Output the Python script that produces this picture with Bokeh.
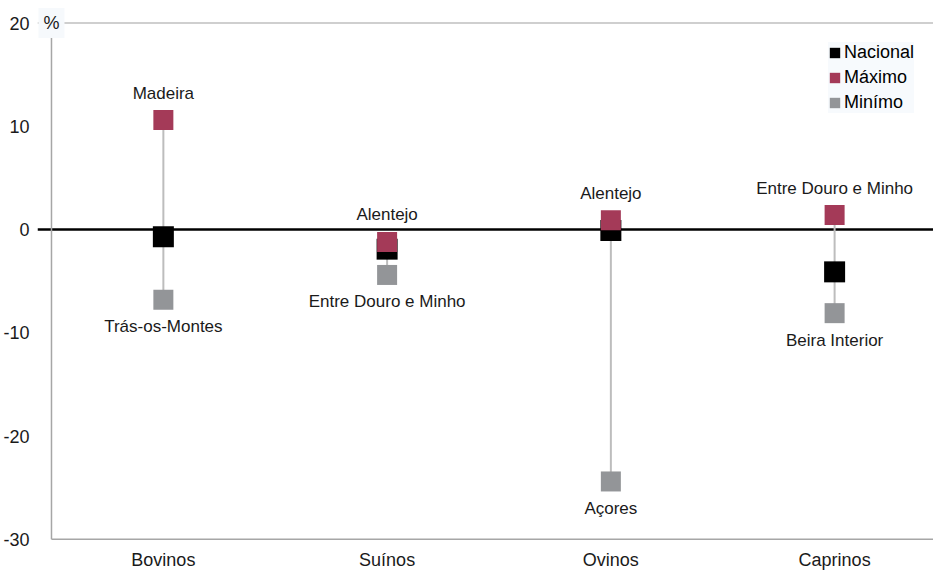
import numpy as np
from bokeh.plotting import figure
from bokeh.models import (ColumnDataSource, FixedTicker, Span, Label, Legend,
                          LegendItem, Range1d)
from bokeh.core.properties import value
from bokeh.embed import file_html
from bokeh.resources import INLINE

# ---------------- data ----------------
categories = ["Bovinos", "Suínos", "Ovinos", "Caprinos"]
nacional = [-0.7, -1.9, -0.1, -4.1]
maximo = [10.6, -1.2, 0.9, 1.4]
minimo = [-6.8, -4.4, -24.4, -8.1]
max_regions = ["Madeira", "Alentejo", "Alentejo", "Entre Douro e Minho"]
min_regions = ["Trás-os-Montes", "Entre Douro e Minho", "Açores", "Beira Interior"]
y_ticks = [-30, -20, -10, 0, 10, 20]
legend_labels = ["Nacional", "Máximo", "Minímo"]
unit_label = "%"

# ---------------- styles / layout ----------------
FONT_NAME = "Liberation Sans"
FONT = value(FONT_NAME)
C_NAC = "#000000"
C_MAX = "#A43A58"
C_MIN = "#939598"
C_AXIS = "#A6A6A6"

W, H = 933, 573
LEFT = 36
PX_X = 224.0            # pixels per category
PX_Y = 516.0 / 50.0     # pixels per percentage point
TOP_PX, BOT_PX = 22.5, 538.8   # pixel rows of the 20 and -30 lines
frame_w = W - LEFT
x_start = -14.0 / PX_X
x_end = x_start + frame_w / PX_X
y_lo, y_hi = y_ticks[0], y_ticks[-1]
y_end = y_hi + TOP_PX / PX_Y
y_start = y_lo - (H - BOT_PX) / PX_Y

xs = [i + 0.5 for i in range(len(categories))]
src = ColumnDataSource(dict(x=xs, nac=nacional, mx=maximo, mn=minimo,
                            maxr=max_regions, minr=min_regions,
                            base=[y_lo] * len(categories), cat=categories))

p = figure(width=W, height=H, output_backend="svg", toolbar_location=None,
           x_range=Range1d(x_start, x_end), y_range=Range1d(y_start, y_end),
           min_border_left=LEFT, min_border_right=0, min_border_top=0,
           min_border_bottom=0)
p.outline_line_color = None
p.xgrid.visible = False
p.ygrid.visible = False
p.xaxis.visible = False
p.background_fill_color = "white"
p.border_fill_color = "white"

# y axis (labels only; line drawn as a segment)
p.yaxis.ticker = FixedTicker(ticks=y_ticks)
p.yaxis.major_label_overrides = {t: str(t) for t in y_ticks}
p.yaxis.major_tick_line_color = None
p.yaxis.minor_tick_line_color = None
p.yaxis.axis_line_color = None
p.yaxis.major_label_text_font = FONT_NAME
p.yaxis.major_label_text_font_size = "18px"
p.yaxis.major_label_text_color = "#1a1a1a"
p.yaxis.major_label_standoff = 2

# reference lines
p.add_layout(Span(location=0, dimension="width", line_color="black",
                  line_width=2.5, level="underlay"))
p.add_layout(Span(location=y_hi, dimension="width", line_color="#BFBFBF",
                  line_width=1.5, level="underlay"))

# axis lines
p.segment(x0=[0], y0=[y_lo], x1=[0], y1=[y_hi], line_color=C_AXIS, line_width=1.5)
p.segment(x0=[0], y0=[y_lo], x1=[x_end], y1=[y_lo], line_color=C_AXIS, line_width=1.5)

# category labels under the axis
p.text(x="x", y="base", text="cat", source=src, text_align="center",
       text_baseline="top", y_offset=11, text_font=FONT,
       text_font_size="18px", text_color="#1a1a1a")

# range segments
p.segment(x0="x", y0="mn", x1="x", y1="mx", source=src,
          line_color="#BDBDBD", line_width=2)

# markers
p.scatter("x", "nac", source=src, marker="square", size=21,
          fill_color=C_NAC, line_color=None)
p.scatter("x", "mn", source=src, marker="square", size=20,
          fill_color=C_MIN, line_color=None)
p.scatter("x", "mx", source=src, marker="square", size=20,
          fill_color=C_MAX, line_color=None)

# region labels
p.text(x="x", y="mx", text="maxr", source=src, text_align="center",
       text_baseline="middle", y_offset=-27, text_font=FONT,
       text_font_size="17px", text_color="#1a1a1a")
p.text(x="x", y="mn", text="minr", source=src, text_align="center",
       text_baseline="middle", y_offset=27, text_font=FONT,
       text_font_size="17px", text_color="#1a1a1a")

# unit label at the top of the y axis
p.add_layout(Label(x=0, y=y_hi, x_units="data", y_units="data",
                   text=unit_label, text_align="center", text_baseline="middle",
                   text_font=FONT_NAME, text_font_size="18px", text_color="#1a1a1a",
                   background_fill_color="#F6F9FC", padding=5))

# legend (swatches via empty renderers)
dummy = ColumnDataSource(dict(l=[np.nan], r=[np.nan], t=[np.nan], b=[np.nan]))
items = []
for lab, col in zip(legend_labels, [C_NAC, C_MAX, C_MIN]):
    r = p.quad(left="l", right="r", top="t", bottom="b", source=dummy,
               fill_color=col, line_color=None)
    items.append(LegendItem(label=lab, renderers=[r]))
legend = Legend(items=items, location=(791, 460),
                background_fill_color="#F7FAFD", background_fill_alpha=1,
                border_line_color=None, label_text_font=FONT_NAME,
                label_text_font_size="18px", label_text_color="#000000",
                glyph_width=13, glyph_height=13, label_standoff=3,
                spacing=4, padding=6, label_height=20, margin=0)
p.add_layout(legend)

open("out.html", "w").write(file_html(p, INLINE))
